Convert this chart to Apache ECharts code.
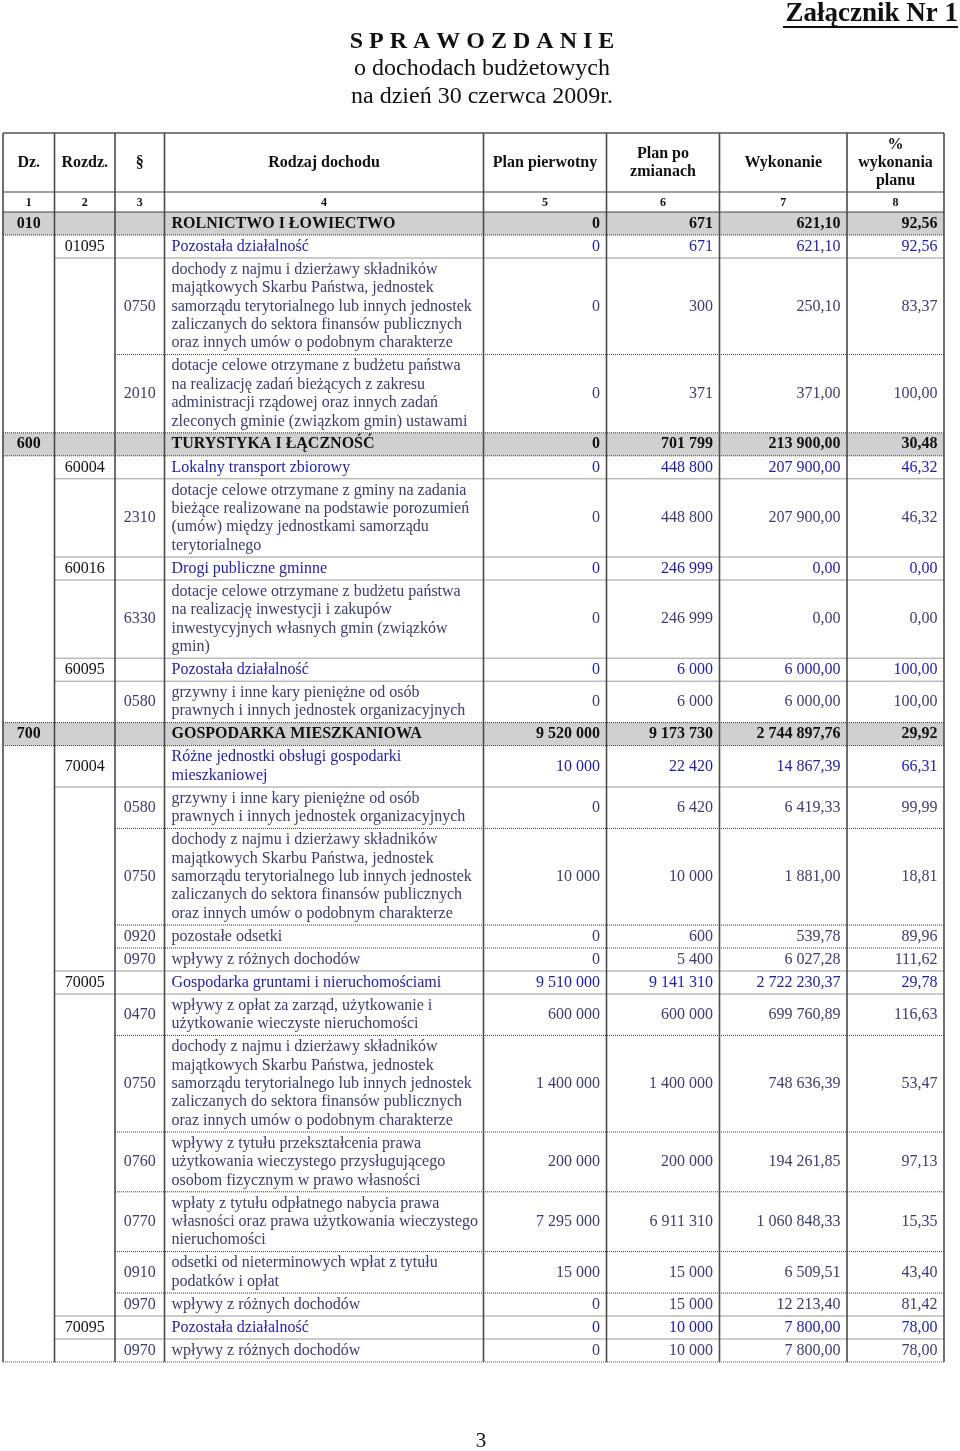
<!DOCTYPE html>
<html>
<head>
<meta charset="utf-8">
<script src="https://cdn.jsdelivr.net/npm/echarts@6/dist/echarts.min.js"></script>
<style>
  html, body { margin: 0; padding: 0; background: #fff; }
  #main { width: 960px; height: 1451px; }
</style>
</head>
<body>
<div id="main"></div>
<script>
// nagłówki kolumn
const headers = ['Dz.', 'Rozdz.', '§', 'Rodzaj dochodu', 'Plan pierwotny', 'Plan po\nzmianach', 'Wykonanie', '%\nwykonania\nplanu'];
const colNumbers = ['1', '2', '3', '4', '5', '6', '7', '8'];

// dane tabeli (dz = dział, rozdz = rozdział, par = paragraf)
const levels = ['dz', 'rozdz', 'par', 'par', 'dz', 'rozdz', 'par', 'rozdz', 'par', 'rozdz', 'par',
  'dz', 'rozdz', 'par', 'par', 'par', 'par', 'rozdz', 'par', 'par', 'par', 'par', 'par', 'par', 'rozdz', 'par'];
const codes = ['010', '01095', '0750', '2010', '600', '60004', '2310', '60016', '6330', '60095', '0580',
  '700', '70004', '0580', '0750', '0920', '0970', '70005', '0470', '0750', '0760', '0770', '0910', '0970', '70095', '0970'];
const najem = 'dochody z najmu i dzierżawy składników\nmajątkowych Skarbu Państwa, jednostek\nsamorządu terytorialnego lub innych jednostek\nzaliczanych do sektora finansów publicznych\noraz innych umów o podobnym charakterze';
const grzywny = 'grzywny i inne kary pieniężne od osób\nprawnych i innych jednostek organizacyjnych';
const names = [
  'ROLNICTWO I ŁOWIECTWO',
  'Pozostała działalność',
  najem,
  'dotacje celowe otrzymane z budżetu państwa\nna realizację zadań bieżących z zakresu\nadministracji rządowej oraz innych zadań\nzleconych gminie (związkom gmin) ustawami',
  'TURYSTYKA I ŁĄCZNOŚĆ',
  'Lokalny transport zbiorowy',
  'dotacje celowe otrzymane z gminy na zadania\nbieżące realizowane na podstawie porozumień\n(umów) między jednostkami samorządu\nterytorialnego',
  'Drogi publiczne gminne',
  'dotacje celowe otrzymane z budżetu państwa\nna realizację inwestycji i zakupów\ninwestycyjnych własnych gmin (związków\ngmin)',
  'Pozostała działalność',
  grzywny,
  'GOSPODARKA MIESZKANIOWA',
  'Różne jednostki obsługi gospodarki\nmieszkaniowej',
  grzywny,
  najem,
  'pozostałe odsetki',
  'wpływy z różnych dochodów',
  'Gospodarka gruntami i nieruchomościami',
  'wpływy z opłat za zarząd, użytkowanie i\nużytkowanie wieczyste nieruchomości',
  najem,
  'wpływy z tytułu przekształcenia prawa\nużytkowania wieczystego przysługującego\nosobom fizycznym w prawo własności',
  'wpłaty z tytułu odpłatnego nabycia prawa\nwłasności oraz prawa użytkowania wieczystego\nnieruchomości',
  'odsetki od nieterminowych wpłat z tytułu\npodatków i opłat',
  'wpływy z różnych dochodów',
  'Pozostała działalność',
  'wpływy z różnych dochodów'
];
const planPierwotny = [0, 0, 0, 0, 0, 0, 0, 0, 0, 0, 0,
  9520000, 10000, 0, 10000, 0, 0, 9510000, 600000, 1400000, 200000, 7295000, 15000, 0, 0, 0];
const planPoZmianach = [671, 671, 300, 371, 701799, 448800, 448800, 246999, 246999, 6000, 6000,
  9173730, 22420, 6420, 10000, 600, 5400, 9141310, 600000, 1400000, 200000, 6911310, 15000, 15000, 10000, 10000];
const wykonanie = [621.10, 621.10, 250.10, 371.00, 213900.00, 207900.00, 207900.00, 0, 0, 6000, 6000,
  2744897.76, 14867.39, 6419.33, 1881.00, 539.78, 6027.28, 2722230.37, 699760.89, 748636.39, 194261.85,
  1060848.33, 6509.51, 12213.40, 7800, 7800];
const procent = [92.56, 92.56, 83.37, 100.00, 30.48, 46.32, 46.32, 0, 0, 100, 100,
  29.92, 66.31, 99.99, 18.81, 89.96, 111.62, 29.78, 116.63, 53.47, 97.13, 15.35, 43.40, 81.42, 78.00, 78.00];

// układ
const colWidths = [51.5, 60.5, 49.5, 319, 123, 113, 127.5, 97];
const colEdge = [0];
colWidths.forEach(w => colEdge.push(colEdge[colEdge.length - 1] + w));
const tableWidth = colEdge[colEdge.length - 1];
const headerH = 59, numRowH = 20;
const lineH = 18.4, padH = 4.6;
const FONT = '"Liberation Serif", "Times New Roman", serif';
const levelIdx = levels.map(l => ({ dz: 0, rozdz: 1, par: 2 })[l]);
const rowHeight = names.map(n => padH + lineH * n.split('\n').length);
const rowTop = [];
let acc = headerH + numRowH;
rowHeight.forEach(h => { rowTop.push(acc); acc += h; });
const tableHeight = acc;

const colors = ['#111', '#1c1ca6', '#3b3b72'];

function fmt(v, dec) {
  const s = v.toFixed(dec).split('.');
  const i = s[0].replace(/\B(?=(\d{3})+(?!\d))/g, ' ');
  return s[1] ? i + ',' + s[1] : i;
}

function txt(text, x, y, align, opts) {
  return {
    type: 'text',
    style: Object.assign({
      text: text, x: x, y: y,
      align: align, textAlign: align,
      verticalAlign: 'middle', textVerticalAlign: 'middle',
      fontFamily: FONT, fontSize: 16, lineHeight: lineH, fill: '#111'
    }, opts || {})
  };
}

function renderRow(params, api) {
  const i = api.value(0);
  const lv = levelIdx[i];
  const p0 = api.coord([0, rowTop[i]]);
  const p1 = api.coord([tableWidth, rowTop[i] + rowHeight[i]]);
  const midY = (p0[1] + p1[1]) / 2;
  const X = v => api.coord([v, 0])[0];
  const children = [];
  if (lv === 0) {
    children.push({ type: 'rect', shape: { x: p0[0], y: p0[1], width: p1[0] - p0[0], height: p1[1] - p0[1] }, style: { fill: '#d0d0d0' } });
  }
  if (i > 0) {
    const start = Math.min(levelIdx[i - 1], lv);
    children.push({ type: 'line', shape: { x1: X(colEdge[start]), y1: p0[1], x2: p1[0], y2: p0[1] },
      style: { stroke: '#333', lineWidth: 1, lineDash: [1, 1] } });
  }
  const bold = lv === 0 ? 'bold' : 'normal';
  const fill = colors[lv];
  const codeFill = lv === 2 ? colors[2] : '#111';
  children.push(txt(codes[i], X((colEdge[lv] + colEdge[lv + 1]) / 2), midY, 'center', { fontWeight: bold, fill: codeFill }));
  children.push(txt(names[i], X(colEdge[3] + 7), midY, 'left', { fontWeight: bold, fill: fill }));
  const vals = [fmt(planPierwotny[i], 0), fmt(planPoZmianach[i], 0), fmt(wykonanie[i], 2), fmt(procent[i], 2)];
  vals.forEach((v, k) => {
    children.push(txt(v, X(colEdge[k + 5] - 6.5), midY, 'right', { fontWeight: bold, fill: fill }));
  });
  return { type: 'group', children: children };
}

function renderFrame(params, api) {
  const X = v => api.coord([v, 0])[0];
  const Y = v => api.coord([0, v])[1];
  const children = [];
  const yTop = Y(0), yH = Y(headerH), yN = Y(headerH + numRowH), yB = Y(tableHeight);
  children.push({ type: 'line', shape: { x1: X(0), y1: yTop, x2: X(tableWidth), y2: yTop }, style: { stroke: '#555', lineWidth: 1.5 } });
  children.push({ type: 'line', shape: { x1: X(0), y1: yH, x2: X(tableWidth), y2: yH }, style: { stroke: '#444', lineWidth: 1.2 } });
  children.push({ type: 'line', shape: { x1: X(0), y1: yN, x2: X(tableWidth), y2: yN }, style: { stroke: '#444', lineWidth: 1.2 } });
  children.push({ type: 'line', shape: { x1: X(0), y1: yB, x2: X(tableWidth), y2: yB }, style: { stroke: '#555', lineWidth: 1, lineDash: [1, 1] } });
  colEdge.forEach(e => {
    children.push({ type: 'line', shape: { x1: X(e), y1: yTop, x2: X(e), y2: yB }, style: { stroke: '#4a4a4a', lineWidth: 1.6 } });
  });
  headers.forEach((h, k) => {
    const cx = X((colEdge[k] + colEdge[k + 1]) / 2);
    children.push(txt(h, cx, (yTop + yH) / 2, 'center', { fontWeight: 'bold', lineHeight: 18 }));
    children.push(txt(colNumbers[k], cx, (yH + yN) / 2 + 0.5, 'center', { fontWeight: 'bold', fontSize: 12 }));
  });
  return { type: 'group', children: children };
}

const chart = echarts.init(document.getElementById('main'));
chart.setOption({
  animation: false,
  grid: { left: 3, top: 133, width: tableWidth, height: tableHeight },
  xAxis: { type: 'value', min: 0, max: tableWidth, show: false },
  yAxis: { type: 'value', min: 0, max: tableHeight, inverse: true, show: false },
  graphic: [
    { type: 'text', style: { text: 'Załącznik Nr 1', x: 958, y: 14, align: 'right', textAlign: 'right', verticalAlign: 'middle', textVerticalAlign: 'middle', fontFamily: FONT, fontSize: 27, fontWeight: 'bold', fill: '#111' } },
    { type: 'line', shape: { x1: 783, y1: 27, x2: 958, y2: 27 }, style: { stroke: '#111', lineWidth: 2 } },
    { type: 'text', style: { text: 'S P R A W O Z D A N I E', x: 482, y: 42, align: 'center', textAlign: 'center', verticalAlign: 'middle', textVerticalAlign: 'middle', fontFamily: FONT, fontSize: 24, fontWeight: 'bold', fill: '#111' } },
    { type: 'text', style: { text: 'o dochodach budżetowych', x: 482, y: 69, align: 'center', textAlign: 'center', verticalAlign: 'middle', textVerticalAlign: 'middle', fontFamily: FONT, fontSize: 24, fill: '#111' } },
    { type: 'text', style: { text: 'na dzień 30 czerwca 2009r.', x: 482, y: 97, align: 'center', textAlign: 'center', verticalAlign: 'middle', textVerticalAlign: 'middle', fontFamily: FONT, fontSize: 24, fill: '#111' } },
    { type: 'text', style: { text: '3', x: 481, y: 1441, align: 'center', textAlign: 'center', verticalAlign: 'middle', textVerticalAlign: 'middle', fontFamily: FONT, fontSize: 21, fill: '#111' } }
  ],
  series: [
    {
      type: 'custom',
      renderItem: renderRow,
      data: names.map((_, i) => [i]),
      encode: { x: -1, y: -1 },
      silent: true,
      z: 2
    },
    {
      type: 'custom',
      renderItem: renderFrame,
      data: [[0]],
      encode: { x: -1, y: -1 },
      silent: true,
      z: 3
    }
  ]
});
</script>
</body>
</html>
